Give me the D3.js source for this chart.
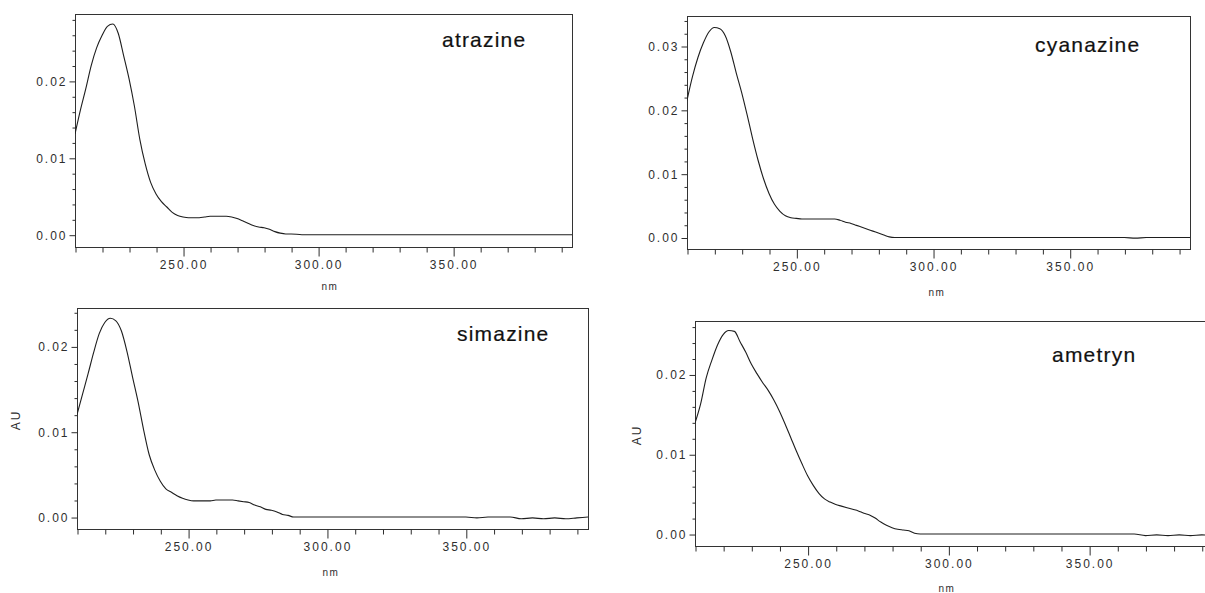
<!DOCTYPE html>
<html>
<head>
<meta charset="utf-8">
<script src="https://cdn.jsdelivr.net/npm/d3@7/dist/d3.min.js"></script>
<style>
  html, body { margin: 0; padding: 0; background: #fff; }
  svg { display: block; font-family: "Liberation Sans", Arial, sans-serif; }
</style>
</head>
<body>
<svg id="chart" width="1205" height="593"></svg>
<script>
// ---------- DATA ----------
const wavelengths = [210,212,214,216,218,220,222,224,226,228,230,232,234,236,238,240,242,244,246,248,250,
  252,254,256,258,260,262,264,266,268,270,272,274,276,278,280,282,284,286,288,290,
  294,298,302,306,310,314,318,322,326,330,334,338,342,346,350,354,358,362,366,370,374,378,382,386,390,394];

const atrazineAU = [0.0131,0.0162,0.0190,0.0220,0.0243,0.0259,0.0271,0.0274,0.0262,0.0233,0.0203,0.0167,0.0124,0.0092,0.0068,0.0053,0.0043,0.0036,0.0029,0.0025,0.0023,
  0.0022,0.0022,0.0022,0.0023,0.0024,0.0024,0.0024,0.0024,0.0023,0.0021,0.0018,0.0015,0.0012,0.0010,0.0009,0.0007,0.0004,0.0002,0.0001,0.0001,
  0,0,0,0,0,0,0,0,0,0,0,0,0,0,0,0,0,0,0,0,0,0,0,0,0,0];

const cyanazineAU = [0.0215,0.0252,0.0282,0.0305,0.0322,0.0329,0.0327,0.0316,0.0291,0.0258,0.0227,0.0192,0.0155,0.0121,0.0092,0.0069,0.0052,0.0041,0.0034,0.0031,0.0030,
  0.0029,0.0029,0.0029,0.0029,0.0029,0.0029,0.0029,0.0027,0.0024,0.0022,0.0019,0.0016,0.0013,0.0010,0.0007,0.0004,0.0001,0,0,0,
  0,0,0,0,0,0,0,0,0,0,0,0,0,0,0,0,0,0,0,0,-0.0001,0,0,0,0,0];

const simazineAU = [0.0120,0.0144,0.0168,0.0193,0.0215,0.0228,0.0233,0.0230,0.0218,0.0194,0.0164,0.0135,0.0102,0.0073,0.0055,0.0042,0.0033,0.0029,0.0025,0.0022,0.0020,
  0.0019,0.0019,0.0019,0.0019,0.0020,0.0020,0.0020,0.0020,0.0019,0.0018,0.0017,0.0014,0.0012,0.0009,0.0008,0.0006,0.0003,0.0002,0,0,
  0,0,0,0,0,0,0,0,0,0,0,0,0,0,0,-0.0001,0,0,0,-0.0002,-0.0001,-0.0002,-0.0001,-0.0002,-0.0001,0];

const ametrynAU = [0.0139,0.0163,0.0196,0.0218,0.0237,0.0250,0.0255,0.0254,0.0241,0.0228,0.0213,0.0201,0.0190,0.0180,0.0168,0.0154,0.0138,0.0121,0.0104,0.0088,0.0073,
  0.0061,0.0051,0.0044,0.0040,0.0037,0.0035,0.0033,0.0031,0.0029,0.0026,0.0024,0.0020,0.0015,0.0011,0.0008,0.0006,0.0005,0.0004,0.0001,0,
  0,0,0,0,0,0,0,0,0,0,0,0,0,0,0,0,0,0,0,-0.0002,-0.0001,-0.0002,-0.0001,-0.0002,-0.0001,-0.0002];

const compounds = ["atrazine", "cyanazine", "simazine", "ametryn"];
const seriesAU = [atrazineAU, cyanazineAU, simazineAU, ametrynAU];
const xDomain = [210, 394];
const yDomains = [[-0.0016, 0.0287], [-0.0018, 0.0347], [-0.0014, 0.0245], [-0.0015, 0.0267]];
const xMajorTicks = [250, 300, 350];
const xMinorTicks = [210,220,230,240,260,270,280,290,310,320,330,340,360,370,380,390];
const yMajorTicks = [[0, 0.01, 0.02], [0, 0.01, 0.02, 0.03], [0, 0.01, 0.02], [0, 0.01, 0.02]];
const yMinorTicks = [-0.002,0.002,0.004,0.006,0.008,0.012,0.014,0.016,0.018,0.022,0.024,0.026,0.028,0.032,0.034];
const showAU = [false, false, true, true];
const xLabel = "nm";
const yLabel = "AU";

// ---------- LAYOUT ----------
const layout = [
  {l: 75,  r: 572,  t: 14,  b: 247, title: [442, 47],   nm: [330, 290], au: null},
  {l: 687, r: 1190, t: 16,  b: 249, title: [1035, 52],  nm: [937, 296], au: null},
  {l: 77,  r: 588,  t: 308, b: 529, title: [457, 341],  nm: [331, 576], au: [16, 420]},
  {l: 695, r: 1213, t: 321, b: 546, title: [1052, 362], nm: [947, 592], au: [637, 435]}
];

const svg = d3.select("#chart");
const ink = "#1e1e1e";
const tickInk = "#2e2e2e";

compounds.forEach((name, i) => {
  const L = layout[i];
  const x = d3.scaleLinear().domain(xDomain).range([L.l, L.r]);
  const y = d3.scaleLinear().domain(yDomains[i]).range([L.b, L.t]);
  const g = svg.append("g");

  const clipId = "clip" + i;
  svg.append("clipPath").attr("id", clipId).append("rect")
    .attr("x", L.l).attr("y", L.t).attr("width", L.r - L.l).attr("height", L.b - L.t);

  // frame
  g.append("rect").attr("x", L.l + 0.5).attr("y", L.t + 0.5)
    .attr("width", L.r - L.l).attr("height", L.b - L.t)
    .attr("fill", "none").attr("stroke", "#333").attr("stroke-width", 1);

  // x axes
  const xMinor = d3.axisBottom(x).tickValues(xMinorTicks).tickSize(5).tickSizeOuter(0).tickFormat("");
  const xMajor = d3.axisBottom(x).tickValues(xMajorTicks).tickSize(9).tickSizeOuter(0).tickFormat(d3.format(".2f"));
  const gxm = g.append("g").attr("transform", `translate(0.5,${L.b + 0.5})`).call(xMinor);
  const gxM = g.append("g").attr("transform", `translate(0.5,${L.b + 0.5})`).call(xMajor);
  [gxm, gxM].forEach(a => { a.select(".domain").remove(); a.selectAll("line").attr("stroke", tickInk); });
  gxM.selectAll("text").attr("fill", tickInk).attr("font-size", 12).attr("letter-spacing", "2px")
    .attr("y", 13).attr("dy", "0.71em").attr("font-family", "Liberation Sans, Arial, sans-serif");

  // y axes
  const yMin = d3.axisLeft(y).tickValues(yMinorTicks.filter(v => v >= yDomains[i][0] && v <= yDomains[i][1]))
    .tickSize(3).tickSizeOuter(0).tickFormat("");
  const yMaj = d3.axisLeft(y).tickValues(yMajorTicks[i]).tickSize(6).tickSizeOuter(0).tickFormat(d3.format(".2f"));
  const gym = g.append("g").attr("transform", `translate(${L.l + 0.5},0.5)`).call(yMin);
  const gyM = g.append("g").attr("transform", `translate(${L.l + 0.5},0.5)`).call(yMaj);
  [gym, gyM].forEach(a => { a.select(".domain").remove(); a.selectAll("line").attr("stroke", tickInk); });
  gyM.selectAll("text").attr("fill", tickInk).attr("font-size", 12).attr("letter-spacing", "2px")
    .attr("x", -8).attr("font-family", "Liberation Sans, Arial, sans-serif");

  // line
  const pts = wavelengths.map((w, k) => [w, seriesAU[i][k]]);
  const line = d3.line().x(d => x(d[0])).y(d => y(d[1])).curve(d3.curveMonotoneX);
  g.append("path").datum(pts).attr("d", line)
    .attr("fill", "none").attr("stroke", ink).attr("stroke-width", 1.1)
    .attr("clip-path", `url(#${clipId})`);

  // title
  g.append("text").attr("x", L.title[0]).attr("y", L.title[1])
    .attr("font-size", 21).attr("letter-spacing", "1.2px").attr("fill", "#111")
    .attr("stroke", "#111").attr("stroke-width", 0.2).text(name);

  // nm label
  g.append("text").attr("x", L.nm[0]).attr("y", L.nm[1]).attr("text-anchor", "middle")
    .attr("font-size", 10).attr("letter-spacing", "1.5px").attr("fill", tickInk).text(xLabel);

  // AU label
  if (showAU[i]) {
    g.append("text").attr("transform", `translate(${L.au[0] + 4},${L.au[1]}) rotate(-90)`)
      .attr("text-anchor", "middle").attr("font-size", 12).attr("letter-spacing", "2px")
      .attr("fill", tickInk).text(yLabel);
  }
});
</script>
</body>
</html>
